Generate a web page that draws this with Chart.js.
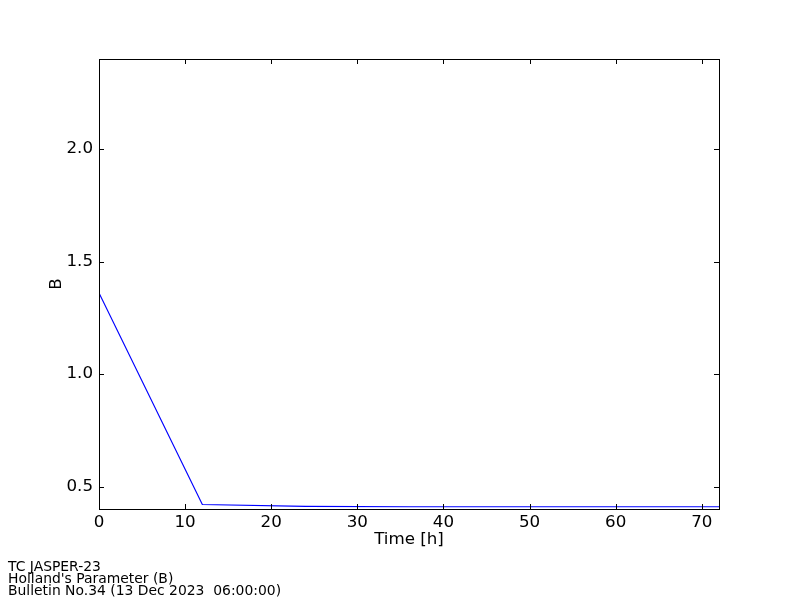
<!DOCTYPE html>
<html>
<head>
<meta charset="utf-8">
<script src="https://cdn.jsdelivr.net/npm/chart.js@4/dist/chart.umd.min.js"></script>
<style>
  body { margin: 0; background: #fff; }
  #wrap { position: relative; width: 800px; height: 600px; }
  #footer {
    position: absolute; left: 8px; top: 560px;
    font-family: "DejaVu Sans", sans-serif; font-size: 13.9px; line-height: 12px;
    color: #000; white-space: pre;
  }
</style>
</head>
<body>
<div id="wrap">
  <canvas id="bChart" width="800" height="600"></canvas>
  <div id="footer">TC JASPER-23
Holland's Parameter (B)
Bulletin No.34 (13 Dec 2023  06:00:00)</div>
</div>
<script>
// Forecast hours and Holland B values
const hours = [0, 12, 24, 36, 48, 60, 72];
const bValues = [1.36, 0.42, 0.412, 0.41, 0.41, 0.41, 0.41];
const xTicks = [0, 10, 20, 30, 40, 50, 60, 70];
const yTicks = [0.5, 1.0, 1.5, 2.0];

const FONT = "DejaVu Sans";

// Draws the matplotlib-style frame with inward ticks on all four sides
const framePlugin = {
    id: 'frame',
    afterDatasetsDraw(chart) {
        const { ctx, chartArea: a, scales } = chart;
        const len = 5;
        ctx.save();
        ctx.strokeStyle = '#000';
        ctx.lineWidth = 1;
        ctx.beginPath();
        xTicks.forEach(v => {
            const x = Math.round(scales.x.getPixelForValue(v)) + 0.5;
            ctx.moveTo(x, a.bottom); ctx.lineTo(x, a.bottom - len);
            ctx.moveTo(x, a.top); ctx.lineTo(x, a.top + len);
        });
        yTicks.forEach(v => {
            const y = Math.round(scales.y.getPixelForValue(v)) + 0.5;
            ctx.moveTo(a.left, y); ctx.lineTo(a.left + len, y);
            ctx.moveTo(a.right, y); ctx.lineTo(a.right - len, y);
        });
        ctx.stroke();
        ctx.strokeRect(a.left + 0.5, a.top + 0.5, a.right - a.left, a.bottom - a.top);
        ctx.restore();
    }
};

const ctx = document.getElementById('bChart').getContext('2d');
new Chart(ctx, {
    type: 'line',
    data: {
        datasets: [{
            data: hours.map((h, i) => ({ x: h, y: bValues[i] })),
            borderColor: '#0000ff',
            borderWidth: 1.2,
            pointRadius: 0,
            tension: 0,
            fill: false
        }]
    },
    options: {
        responsive: false,
        animation: false,
        layout: { padding: { top: 59, right: 81, left: 0, bottom: 0 } },
        plugins: { legend: { display: false }, tooltip: { enabled: false } },
        scales: {
            x: {
                type: 'linear',
                min: 0,
                max: 72,
                afterBuildTicks: s => { s.ticks = xTicks.map(v => ({ value: v })); },
                afterFit: s => { s.height = 91; },
                grid: { display: false, drawTicks: false },
                border: { display: false },
                ticks: {
                    color: '#000', padding: 4,
                    font: { family: FONT, size: 16.7 },
                    maxRotation: 0,
                    callback: v => String(v)
                },
                title: {
                    display: true, text: 'Time [h]', color: '#000',
                    font: { family: FONT, size: 16.7 },
                    padding: { top: 0, bottom: 50 }
                }
            },
            y: {
                min: 0.4,
                max: 2.4,
                afterBuildTicks: s => { s.ticks = yTicks.map(v => ({ value: v })); },
                afterFit: s => { s.width = 99; },
                grid: { display: false, drawTicks: false },
                border: { display: false },
                ticks: {
                    color: '#000', padding: 6,
                    font: { family: FONT, size: 16.7 },
                    callback: v => Number(v).toFixed(1)
                },
                title: {
                    display: true, text: 'B', color: '#000',
                    font: { family: FONT, size: 16.7 },
                    padding: { top: 47, bottom: 0 }
                }
            }
        }
    },
    plugins: [framePlugin]
});
</script>
</body>
</html>
